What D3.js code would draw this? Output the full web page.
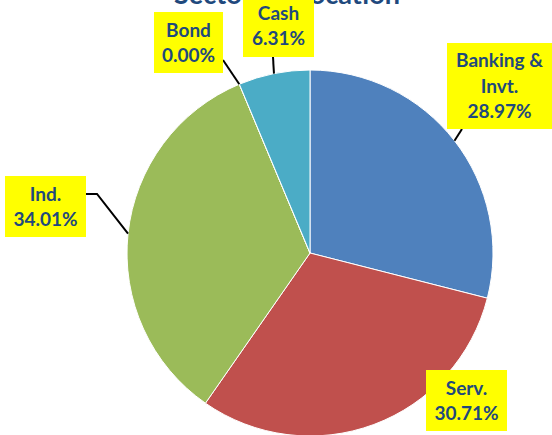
<!DOCTYPE html>
<html>
<head>
<meta charset="UTF-8" />
<title>Sectoral Allocation</title>
<script src="https://cdn.jsdelivr.net/npm/d3@7"></script>
<style>
  body { margin: 0; background: #fff; }
  svg { display: block; }
  text { font-family: Lato, "Open Sans", sans-serif; font-weight: bold; fill: #1F497D; }
</style>
</head>
<body>
<svg id="chart"></svg>
<script>
// chart data
const sectors = ["Banking &\nInvt.", "Serv.", "Ind.", "Bond", "Cash"];
const shares = [28.97, 30.71, 34.01, 0.00, 6.31];
const colors = ["#4F81BD", "#C0504D", "#9BBB59", "#8064A2", "#4BACC6"];

const width = 552, height = 435;
const cx = 310, cy = 253, radius = 183;

// label box placement (top-left corner, size) and leader line elbows
const labelBoxes = [
  { x: 447, y: 43, w: 105, h: 86, line: [[462, 129]] },
  { x: 426, y: 370, w: 81, h: 61, line: null },
  { x: 5, y: 176, w: 81, h: 61, line: [[86, 194], [97, 194]] },
  { x: 154, y: 12, w: 69, h: 61, line: [[223, 60]] },
  { x: 243, y: -6, w: 71, h: 63, line: [[273, 57]] }
];

const svg = d3.select("#chart")
  .attr("width", width)
  .attr("height", height);

// title (mostly cut off at the top)
svg.append("text")
  .attr("x", 287)
  .attr("y", 4)
  .attr("text-anchor", "middle")
  .style("font-size", "27px")
  .text("Sectoral Allocation");

const pie = d3.pie().sort(null).value(d => d);
const arcs = pie(shares);
const arc = d3.arc().innerRadius(0).outerRadius(radius);

const g = svg.append("g").attr("transform", `translate(${cx},${cy})`);

g.selectAll("path")
  .data(arcs)
  .enter()
  .append("path")
  .attr("d", arc)
  .attr("fill", (d, i) => colors[i])
  .attr("stroke", "#fff")
  .attr("stroke-width", 1);

// leader lines to outer edge at each slice's mid angle
arcs.forEach((a, i) => {
  const lb = labelBoxes[i];
  if (!lb.line) return;
  const mid = (a.startAngle + a.endAngle) / 2;
  const edge = [cx + radius * Math.sin(mid), cy - radius * Math.cos(mid)];
  svg.append("path")
    .attr("d", d3.line()(lb.line.concat([edge])))
    .attr("fill", "none")
    .attr("stroke", "#000")
    .attr("stroke-width", 2);
});

// labels
arcs.forEach((a, i) => {
  const lb = labelBoxes[i];
  const lines = sectors[i].split("\n").concat([shares[i].toFixed(2) + "%"]);
  const lg = svg.append("g");
  lg.append("rect")
    .attr("x", lb.x).attr("y", lb.y)
    .attr("width", lb.w).attr("height", lb.h)
    .attr("fill", "#FFFF00");
  const lineH = 25.5;
  const top = lb.y + lb.h / 2 - (lines.length - 1) * lineH / 2;
  lines.forEach((t, j) => {
    lg.append("text")
      .attr("x", lb.x + lb.w / 2)
      .attr("y", top + j * lineH)
      .attr("dy", "0.36em")
      .attr("text-anchor", "middle")
      .style("font-size", "19px")
      .text(t);
  });
});
</script>
</body>
</html>
